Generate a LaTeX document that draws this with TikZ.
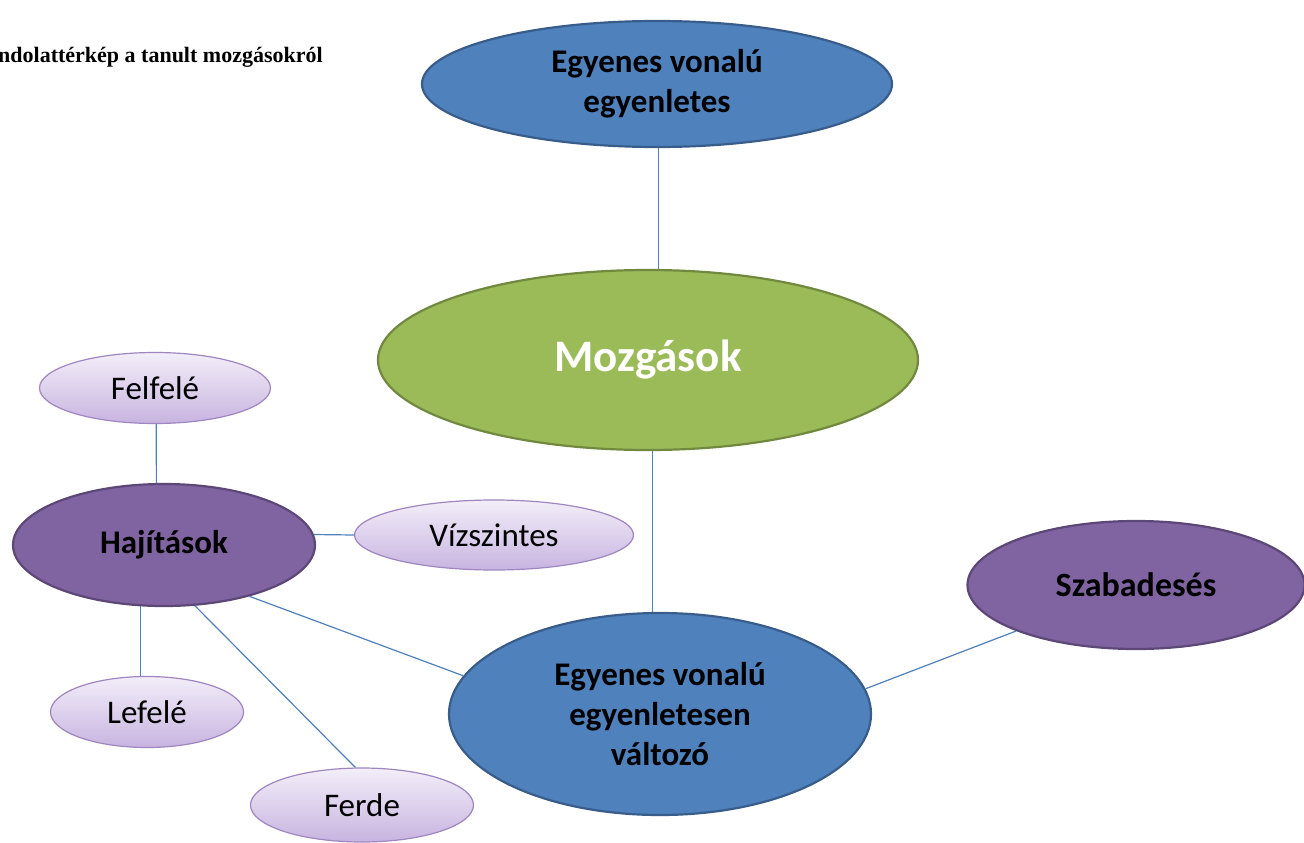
\documentclass[tikz,border=0pt]{standalone}
\usepackage{fontspec}
\setmainfont{Carlito}
\newfontfamily\titlefont{Liberation Serif}
\usetikzlibrary{shapes.geometric}
\definecolor{oblue}{HTML}{4F81BD}
\definecolor{obluedark}{HTML}{385D8A}
\definecolor{ogreen}{HTML}{9BBB59}
\definecolor{ogreendark}{HTML}{71893F}
\definecolor{opurple}{HTML}{8064A2}
\definecolor{opurpledark}{HTML}{5C4776}
\definecolor{lavtop}{HTML}{F3EEF9}
\definecolor{lavbot}{HTML}{C8B4E0}
\definecolor{lavline}{HTML}{9F86C0}
\tikzset{
  oval/.style={ellipse, inner sep=0pt, align=center},
  bluebox/.style={oval, draw=obluedark, line width=2.2pt, fill=oblue, text=black,
    font=\bfseries\fontsize{33}{40}\selectfont},
  greenbox/.style={oval, draw=ogreendark, line width=2.2pt, fill=ogreen, text=white,
    font=\bfseries\fontsize{45}{50}\selectfont},
  purplebox/.style={oval, draw=opurpledark, line width=2.2pt, fill=opurple, text=black,
    font=\bfseries\fontsize{33}{38}\selectfont},
  lavbox/.style={oval, draw=lavline, line width=1.2pt, top color=lavtop, bottom color=lavbot,
    text=black, font=\fontsize{33}{40}\selectfont},
  link/.style={draw=oblue, line width=1.2pt}
}
\begin{document}
\begin{tikzpicture}[x=1pt,y=-1pt]
\useasboundingbox (0,0) rectangle (1304,843);
\fill[white] (0,0) rectangle (1304,843);

\node[anchor=west, inner sep=0pt, font=\titlefont\bfseries\fontsize{22}{26}\selectfont] (title) at (-2,57) {ndolattérkép a tanult mozgásokról};

\node[bluebox, minimum width=470pt, minimum height=126pt] (top) at (657,84) {Egyenes vonalú\\egyenletes};
\node[greenbox, minimum width=540pt, minimum height=180pt] (moz) at (648,360) {Mozgások};
\node[bluebox, minimum width=422pt, minimum height=202pt] (evev) at (660,714) {Egyenes vonalú\\egyenletesen\\változó};
\node[purplebox, minimum width=302pt, minimum height=122pt] (haj) at (164,545) {Hajítások};
\node[purplebox, minimum width=337pt, minimum height=128pt, font=\bfseries\fontsize{34}{38}\selectfont] (szab) at (1136,585) {Szabadesés};
\node[lavbox, minimum width=231pt, minimum height=71pt] (fel) at (155,388) {Felfelé};
\node[lavbox, minimum width=279pt, minimum height=70pt] (viz) at (494,535) {Vízszintes};
\node[lavbox, minimum width=193pt, minimum height=71pt] (le) at (147,712) {Lefelé};
\node[lavbox, minimum width=223pt, minimum height=74pt] (ferde) at (362,805) {Ferde};

\draw[link] (top.-89) -- (moz.north -| top.-89);
\draw[link] (moz.-87) -- (moz.-87 |- evev.north);
\draw[link] (fel.-88) -- (haj.97);
\draw[link] (haj.4) -- (viz.180);
\draw[link] (haj.-31.6) -- (evev.169.4);
\draw[link] (haj.-111.5) -- (haj.-111.5 |- le.north);
\draw[link] (haj.-63.4) -- (ferde.100.7);
\draw[link] (evev.7.9) -- (szab.201);
\end{tikzpicture}
\end{document}
